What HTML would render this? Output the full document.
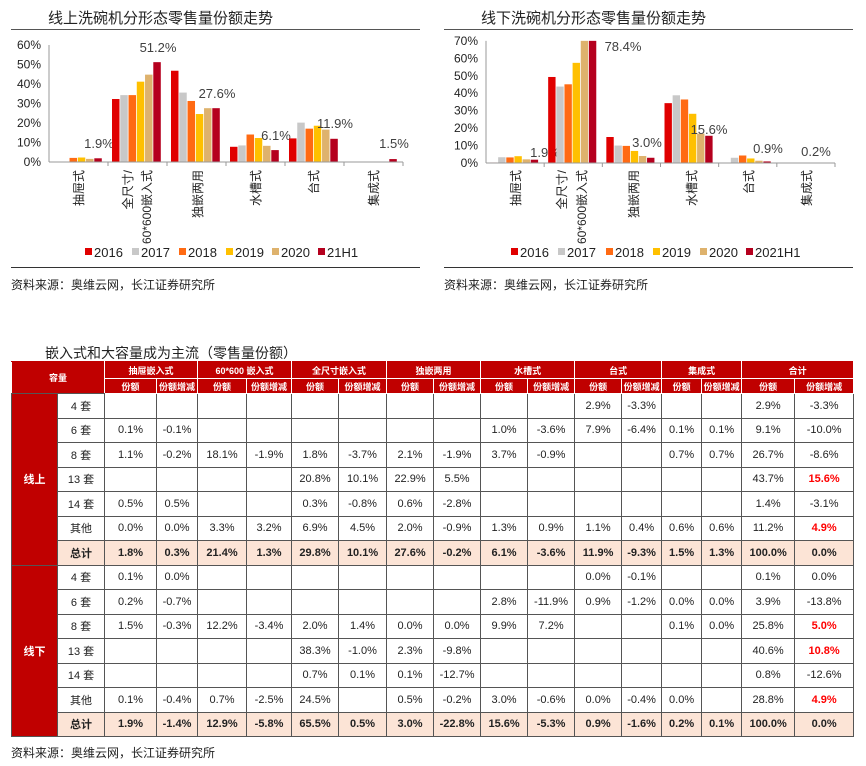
<!DOCTYPE html>
<html><head><meta charset="utf-8">
<style>
*{margin:0;padding:0;box-sizing:border-box}
body{width:866px;height:766px;background:#fff;position:relative;overflow:hidden;font-family:"Liberation Sans","Noto Sans CJK SC",sans-serif;color:#222}
svg{position:absolute;left:0;top:0}
#tbl{position:absolute;left:11px;top:361px;border-collapse:collapse;table-layout:fixed;width:842px}
#tbl td{border:1px solid #555;text-align:center;font-size:11px;padding:0;overflow:hidden;white-space:nowrap}
#tbl tr.h td{background:#c00000;color:#fff;font-weight:bold;font-size:9px;border-color:#fff;border-top-color:#c00000}
#tbl td.g{background:#c00000;color:#fff;font-weight:bold;border-color:#555}
#tbl tr.t td{background:#fce4d6;font-weight:bold}
#tbl td.r{color:#f00;font-weight:bold}
.tx{position:absolute;font-size:12px;color:#222;white-space:nowrap}
</style></head><body>
<svg id="s" width="866" height="340"></svg>
<div class="tx" style="left:45px;top:343px;font-size:14px">嵌入式和大容量成为主流（零售量份额）</div>
<table id="tbl"></table>
<div class="tx" style="left:11px;top:744px">资料来源：奥维云网，长江证券研究所</div>
<script>
const C=['#e00000','#c8c8c8','#ff6a13','#ffc000','#deb26d','#b5001e'];
let s='';
function chart(o){
 const {ox,ax,x1,y0,ppt,max,vals,labs,cats,title,leg,legx}=o;
 s+=`<text x="${ox+48}" y="23" font-size="15" fill="#222">${title}</text>`;
 s+=`<line x1="${ox+11}" y1="29.5" x2="${ox+420}" y2="29.5" stroke="#555"/>`;
 for(let i=0;i<=max;i+=10){const y=y0-i*ppt;s+=`<text x="${ax-8}" y="${y+4}" font-size="12" text-anchor="end" fill="#222">${i}%</text>`;}
 s+=`<line x1="${ax}" y1="${y0-max*ppt}" x2="${ax}" y2="${y0}" stroke="#999"/>`;
 const cw=(x1-ax)/6;
 for(let c=0;c<6;c++){
  for(let i=0;i<6;i++){let v=Math.min(vals[c][i],max);if(v<=0)continue;
   const x=ax+c*cw+4+i*cw*0.14,h=v*ppt;
   s+=`<rect x="${x}" y="${y0-h}" width="${cw*0.127}" height="${h}" fill="${C[i]}"/>`;}
  s+=`<line x1="${ax+(c+1)*cw}" y1="${y0}" x2="${ax+(c+1)*cw}" y2="${y0+4}" stroke="#999"/>`;
  const l=labs[c];s+=`<text x="${l[0]}" y="${l[1]}" font-size="13" text-anchor="middle" fill="#404040">${l[2]}</text>`;
  cats[c].forEach(t=>{s+=`<text transform="translate(${t[0]+5},170) rotate(-90)" font-size="12" text-anchor="end" fill="#222">${t[1]}</text>`;});
 }
 s+=`<line x1="${ax}" y1="${y0}" x2="${x1}" y2="${y0}" stroke="#999"/>`;
 leg.forEach((t,i)=>{const x=ox+legx[i];s+=`<rect x="${x}" y="248" width="7" height="7" fill="${C[i]}"/><text x="${x+9}" y="257" font-size="13" fill="#222">${t}</text>`;});
 s+=`<line x1="${ox+11}" y1="267.5" x2="${ox+420}" y2="267.5" stroke="#333"/>`;
 s+=`<text x="${ox+11}" y="289" font-size="12" fill="#222">资料来源：奥维云网，长江证券研究所</text>`;
}
chart({ox:0,ax:49,x1:403,y0:162,ppt:1.95,max:60,
 vals:[[0,0,2.1,2.3,1.6,1.9],[32.3,34.3,34.3,41.2,44.8,51.2],[46.8,35.6,31.3,24.6,27.6,27.6],[7.8,8.5,14.1,12.3,8.3,6.1],[12.1,20.2,17.1,18.6,16.6,11.9],[0,0,0,0,0,1.5]],
 labs:[[99,148,'1.9%'],[158,52,'51.2%'],[217,98,'27.6%'],[276,140,'6.1%'],[335,128,'11.9%'],[394,148,'1.5%']],
 cats:[[[78,'抽屉式']],[[127,'全尺寸/'],[146,'60*600嵌入式']],[[197,'独嵌两用']],[[255,'水槽式']],[[313,'台式']],[[373,'集成式']]],
 title:'线上洗碗机分形态零售量份额走势',leg:['2016','2017','2018','2019','2020','21H1'],legx:[85,132,179,226,272,318]});
chart({ox:433,ax:486,x1:835,y0:163,ppt:1.745,max:70,
 vals:[[0.3,3.3,3.2,3.9,2.1,1.9],[49.3,43.8,45.1,57.4,72,78.4],[14.9,10,9.8,6.9,4,3],[34.3,38.8,36.4,28.2,16.8,15.6],[0,3,4.3,2.6,1.3,0.9],[0,0,0,0,0,0.2]],
 labs:[[545,157,'1.9%'],[623,51,'78.4%'],[647,147,'3.0%'],[709,134,'15.6%'],[768,153,'0.9%'],[816,156,'0.2%']],
 cats:[[[515,'抽屉式']],[[561,'全尺寸/'],[581,'60*600嵌入式']],[[633,'独嵌两用']],[[691,'水槽式']],[[748,'台式']],[[806,'集成式']]],
 title:'线下洗碗机分形态零售量份额走势',leg:['2016','2017','2018','2019','2020','2021H1'],legx:[78,125,173,220,267,313]});
document.getElementById('s').innerHTML=s;

const W=[46,47,52,41,49,45,47,48,47,47,47,47,47,40,40,40,53,59];
let h='<colgroup>'+W.map(w=>`<col style="width:${w}px">`).join('')+'</colgroup>';
const G=['抽屉嵌入式','60*600 嵌入式','全尺寸嵌入式','独嵌两用','水槽式','台式','集成式','合计'];
h+='<tr class="h" style="height:17px"><td colspan="2" rowspan="2" style="border-bottom-color:#555">容量</td>'+G.map(g=>`<td colspan="2">${g}</td>`).join('')+'</tr>';
h+='<tr class="h" style="height:15px">'+G.map(()=>'<td>份额</td><td>份额增减</td>').join('')+'</tr>';
const R=['4 套','6 套','8 套','13 套','14 套','其他','总计'];
const D1=[
',,,,,,,,,,2.9,-3.3,,,2.9,-3.3',
'0.1,-0.1,,,,,,,1.0,-3.6,7.9,-6.4,0.1,0.1,9.1,-10.0',
'1.1,-0.2,18.1,-1.9,1.8,-3.7,2.1,-1.9,3.7,-0.9,,,0.7,0.7,26.7,-8.6',
',,,,20.8,10.1,22.9,5.5,,,,,,,43.7,*15.6',
'0.5,0.5,,,0.3,-0.8,0.6,-2.8,,,,,,,1.4,-3.1',
'0.0,0.0,3.3,3.2,6.9,4.5,2.0,-0.9,1.3,0.9,1.1,0.4,0.6,0.6,11.2,*4.9',
'1.8,0.3,21.4,1.3,29.8,10.1,27.6,-0.2,6.1,-3.6,11.9,-9.3,1.5,1.3,100.0,0.0'];
const D2=[
'0.1,0.0,,,,,,,,,0.0,-0.1,,,0.1,0.0',
'0.2,-0.7,,,,,,,2.8,-11.9,0.9,-1.2,0.0,0.0,3.9,-13.8',
'1.5,-0.3,12.2,-3.4,2.0,1.4,0.0,0.0,9.9,7.2,,,0.1,0.0,25.8,*5.0',
',,,,38.3,-1.0,2.3,-9.8,,,,,,,40.6,*10.8',
',,,,0.7,0.1,0.1,-12.7,,,,,,,0.8,-12.6',
'0.1,-0.4,0.7,-2.5,24.5,,0.5,-0.2,3.0,-0.6,0.0,-0.4,0.0,,28.8,*4.9',
'1.9,-1.4,12.9,-5.8,65.5,0.5,3.0,-22.8,15.6,-5.3,0.9,-1.6,0.2,0.1,100.0,0.0'];
function block(name,D){D.forEach((r,i)=>{
 h+=`<tr${i==6?' class="t"':''} style="height:24.5px">`;
 if(i==0)h+=`<td class="g" rowspan="7">${name}</td>`;
 h+=`<td>${R[i]}</td>`;
 r.split(',').forEach(v=>{if(v[0]=='*')h+=`<td class="r">${v.slice(1)}%</td>`;else h+=`<td>${v?v+'%':''}</td>`;});
 h+='</tr>';});}
block('线上',D1);block('线下',D2);
document.getElementById('tbl').innerHTML=h;
</script>
</body></html>
